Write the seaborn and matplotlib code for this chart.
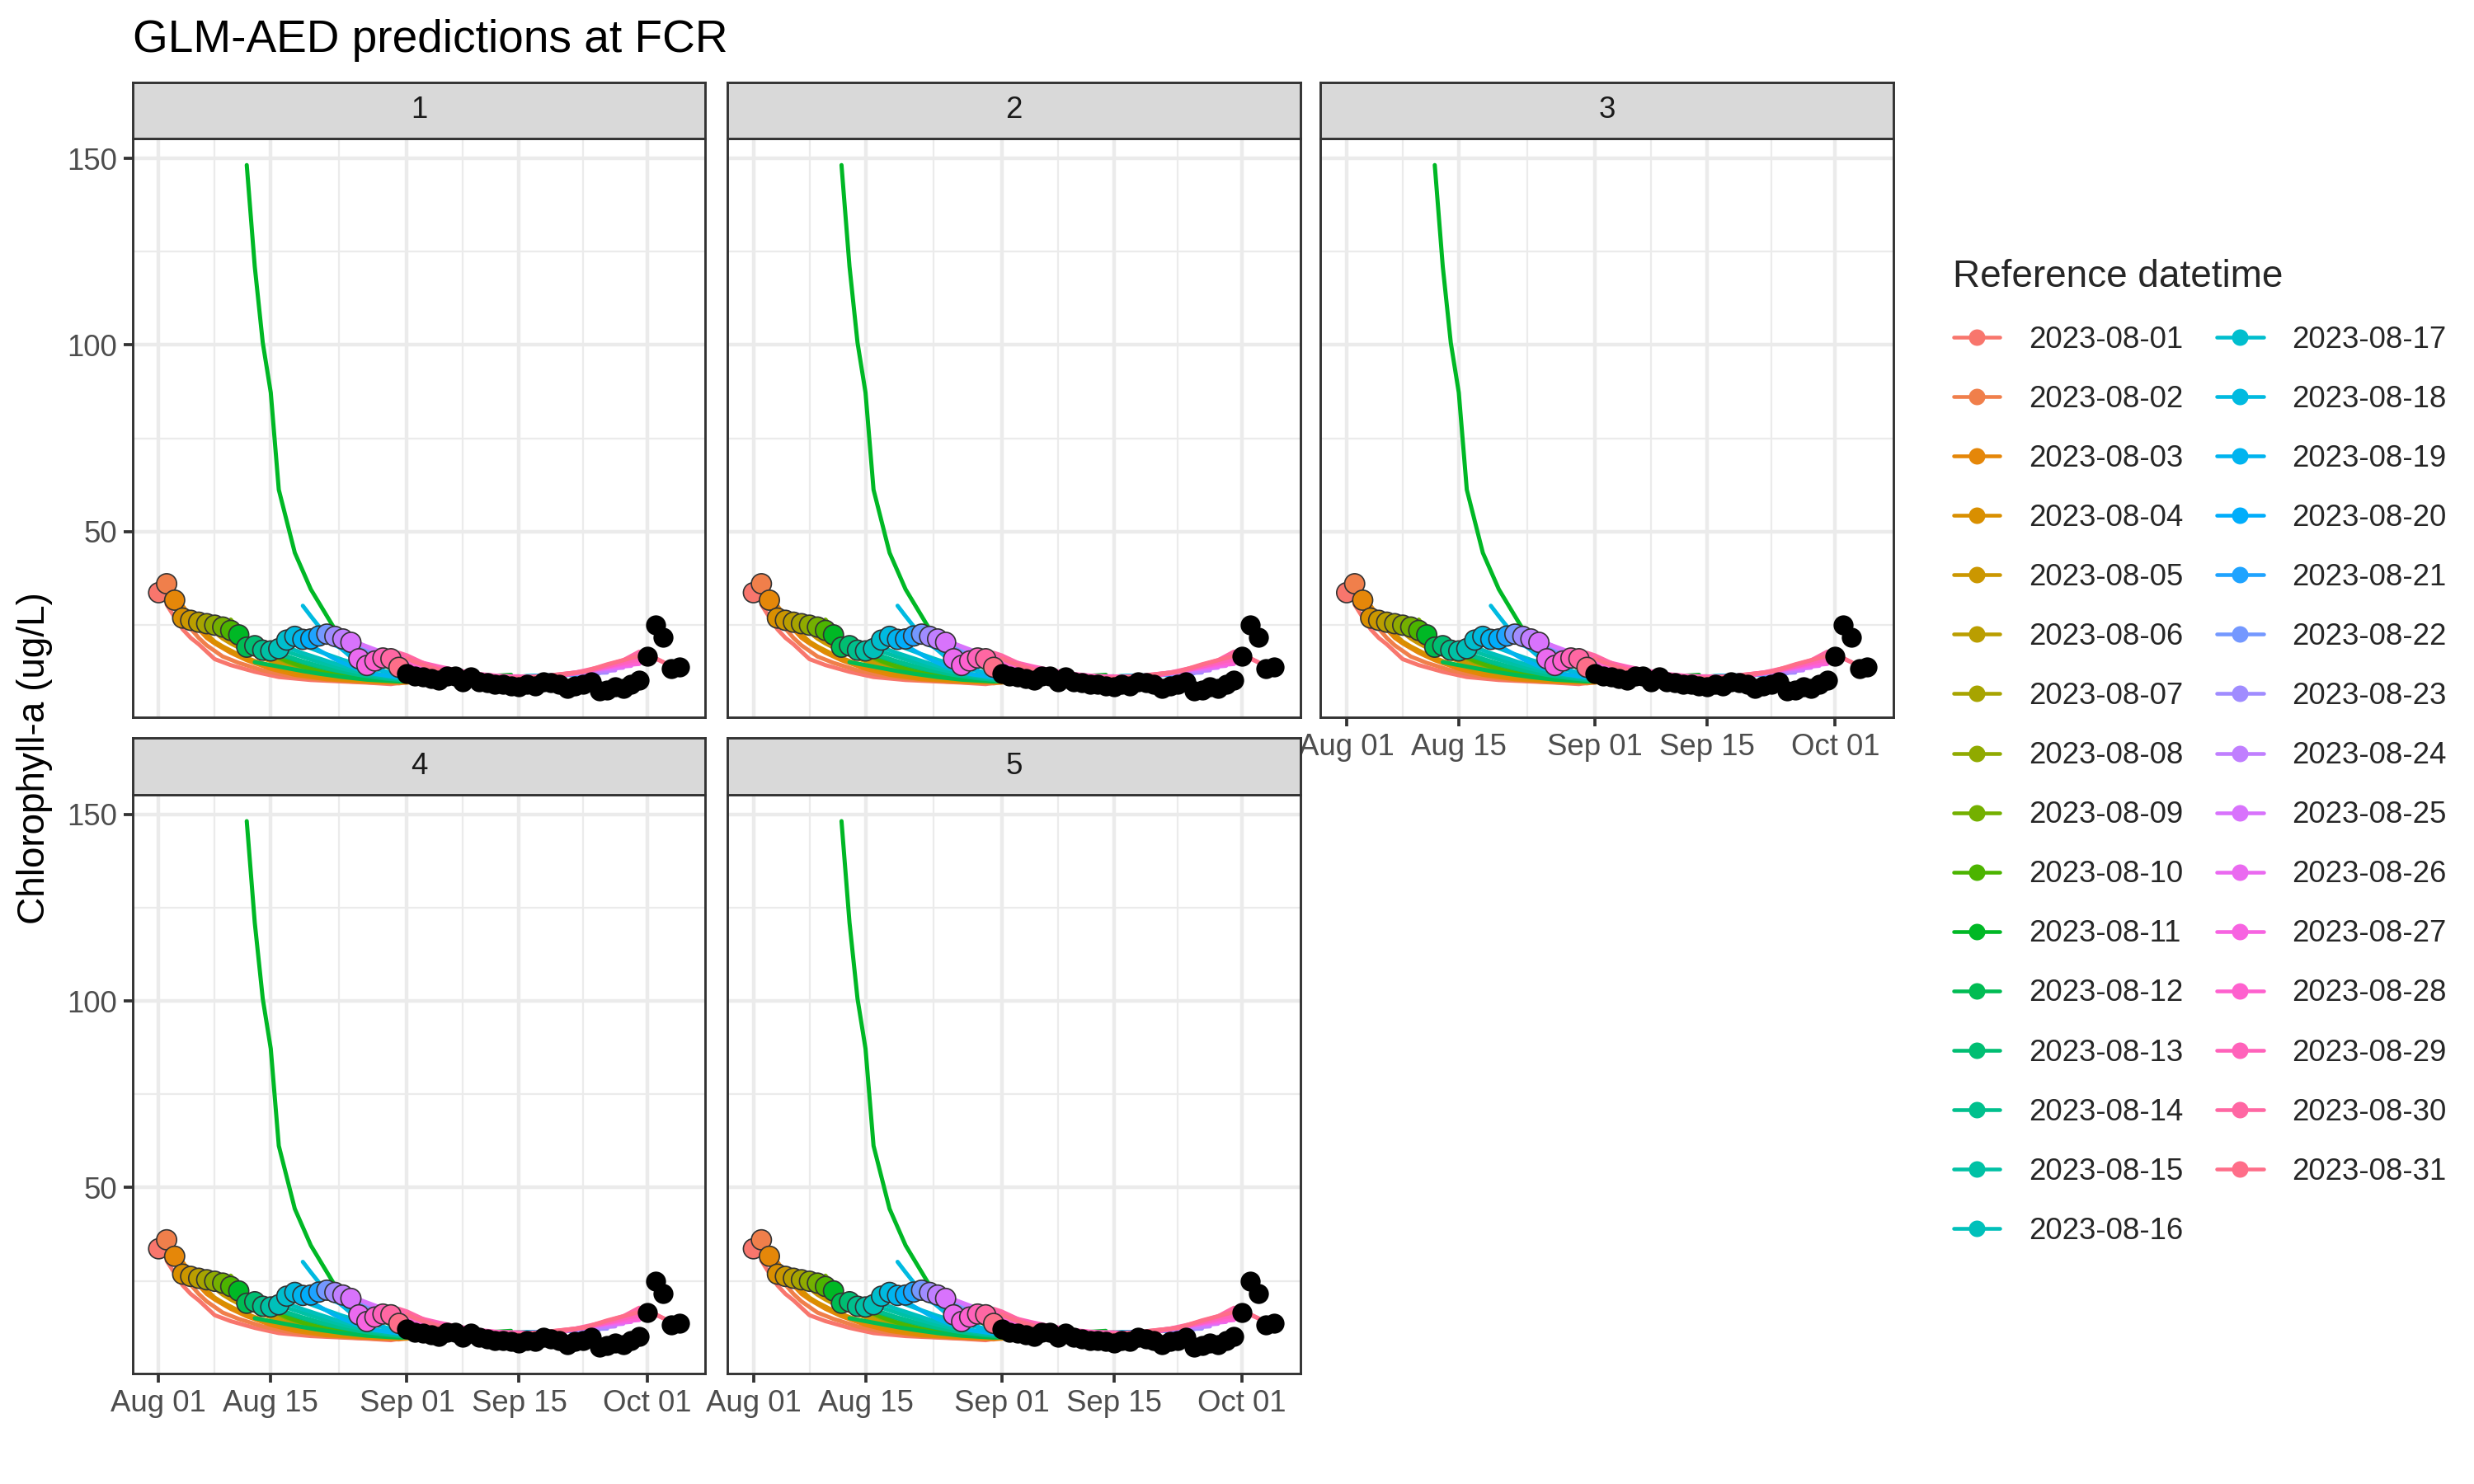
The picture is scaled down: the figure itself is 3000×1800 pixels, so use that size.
import numpy as np
import pandas as pd
import matplotlib
matplotlib.use("Agg")
import matplotlib.pyplot as plt
import matplotlib.dates as mdates
from matplotlib.lines import Line2D
from matplotlib.ticker import FixedLocator
import seaborn as sns

sns.set_theme(style="white")
plt.rcParams["font.family"] = ["Liberation Sans", "DejaVu Sans"]

# ---------------- data ----------------
ref_dates = [f"2023-08-{d:02d}" for d in range(1, 32)]

# forecast horizon (days after the reference date) of the plotted forecast values
horizon_days = [1, 2, 3, 4, 5, 7, 9, 12, 15, 19, 23, 26, 29, 31, 34]

# forecast chlorophyll-a per reference date (rows follow ref_dates)
forecast_chla = [
    [30.4, 27.0, 23.8, 21.5, 19.8, 15.8, 14.2, 12.4, 11.0, 10.2, 9.8, 9.5, 9.1, 9.8, 10.5],
    [30.5, 27.5, 24.0, 21.5, 19.5, 16.5, 14.8, 12.8, 11.4, 10.3, 9.8, 9.5, 9.3, 9.9, 10.6],
    [30.1, 27.0, 23.8, 21.5, 20.0, 17.5, 15.5, 13.2, 11.6, 10.4, 9.9, 9.6, 9.5, 10.0, 10.8],
    [27.0, 25.0, 22.5, 20.5, 19.2, 17.0, 15.3, 13.3, 11.8, 10.6, 10.0, 9.7, 9.7, 10.2, 10.9],
    [26.5, 24.8, 23.0, 21.3, 20.0, 17.8, 16.0, 13.8, 12.2, 10.9, 10.2, 9.9, 9.9, 10.4, 11.0],
    [26.0, 24.6, 23.2, 21.8, 20.5, 18.2, 16.3, 14.1, 12.4, 11.0, 10.3, 10.0, 10.1, 10.5, 11.0],
    [25.6, 24.2, 22.8, 21.5, 20.2, 18.0, 16.1, 13.9, 12.3, 10.9, 10.3, 10.1, 10.2, 10.6, 11.1],
    [25.5, 24.0, 22.3, 20.8, 19.4, 17.0, 15.0, 12.8, 11.5, 10.5, 10.1, 10.0, 10.3, 10.7, 11.2],
    [26.4, 23.8, 21.7, 20.0, 18.6, 16.2, 14.4, 12.5, 11.3, 10.4, 10.1, 10.2, 10.5, 10.9, 11.3],
    [23.0, 21.5, 20.0, 18.6, 17.4, 15.3, 13.8, 12.1, 11.1, 10.2, 10.0, 10.2, 10.5, 10.9, 11.3],
    [148.2, 121.0, 100.6, 87.2, 61.2, 44.3, 34.5, 23.8, 18.0, 13.2, 11.0, 10.6, 10.8, 11.2, 11.6],
    [15.0, 14.6, 14.2, 13.8, 13.4, 12.6, 11.9, 11.0, 10.3, 9.8, 10.0, 10.3, 10.6, 10.9, 11.2],
    [18.5, 17.8, 17.0, 16.3, 15.6, 14.3, 13.2, 11.9, 10.9, 10.0, 10.1, 10.4, 10.7, 11.0, 11.2],
    [18.0, 17.3, 16.6, 15.9, 15.2, 14.0, 12.9, 11.6, 10.7, 9.9, 10.2, 10.5, 10.8, 11.0, 11.2],
    [18.5, 17.8, 17.1, 16.4, 15.7, 14.4, 13.2, 11.8, 10.8, 10.0, 10.3, 10.6, 10.9, 11.1, 11.3],
    [19.0, 18.2, 17.4, 16.7, 16.0, 14.6, 13.4, 11.9, 10.9, 10.1, 10.5, 10.7, 11.0, 11.2, 11.4],
    [20.5, 19.6, 18.7, 17.9, 17.1, 15.6, 14.3, 12.6, 11.3, 10.3, 10.6, 10.8, 11.1, 11.3, 11.5],
    [30.1, 27.3, 24.6, 22.2, 20.0, 16.4, 14.2, 12.0, 11.0, 10.5, 10.7, 10.9, 11.2, 11.4, 11.6],
    [19.5, 18.2, 17.0, 15.8, 14.8, 13.0, 11.8, 10.9, 10.6, 10.5, 10.7, 11.0, 11.2, 11.4, 11.6],
    [21.5, 20.5, 19.5, 18.6, 17.7, 16.0, 14.5, 12.6, 11.4, 10.6, 10.7, 11.0, 11.3, 11.5, 11.7],
    [22.0, 21.0, 20.0, 19.0, 18.0, 16.2, 14.6, 12.7, 11.4, 10.6, 10.6, 11.0, 11.4, 11.6, 11.8],
    [22.3, 21.3, 20.3, 19.3, 18.3, 16.4, 14.8, 12.8, 11.5, 10.7, 10.6, 11.0, 11.5, 11.8, 12.0],
    [22.0, 21.0, 20.0, 19.0, 18.0, 16.2, 14.6, 12.7, 11.5, 10.8, 10.7, 11.1, 11.7, 12.0, 12.2],
    [21.0, 20.0, 19.0, 18.0, 17.2, 15.6, 14.2, 12.5, 11.5, 10.9, 10.8, 11.3, 12.0, 12.4, 12.8],
    [20.0, 19.2, 18.4, 17.6, 16.9, 15.4, 14.1, 12.5, 11.5, 11.0, 11.0, 11.6, 12.5, 13.0, 13.5],
    [17.0, 16.5, 16.0, 15.5, 15.0, 14.0, 13.1, 12.0, 11.3, 11.0, 11.1, 11.8, 12.8, 13.5, 14.0],
    [15.5, 15.2, 14.9, 14.6, 14.2, 13.5, 12.8, 11.8, 11.2, 11.0, 11.2, 12.0, 13.2, 14.0, 14.5],
    [16.0, 15.6, 15.2, 14.8, 14.4, 13.6, 12.9, 11.9, 11.3, 11.1, 11.4, 12.4, 13.8, 14.6, 15.0],
    [17.0, 16.6, 16.0, 15.4, 14.8, 13.8, 12.9, 11.8, 11.2, 11.1, 11.6, 12.8, 14.4, 15.4, 15.8],
    [17.5, 16.8, 15.8, 14.8, 13.9, 12.5, 11.7, 11.1, 10.7, 11.2, 12.2, 13.6, 15.5, 17.8, 15.0],
    [16.0, 15.0, 14.2, 13.5, 12.9, 12.0, 11.4, 10.9, 10.6, 11.5, 12.4, 14.4, 16.1, 17.2, 13.9],
]

# observed chlorophyll-a on each reference date (coloured points)
ref_obs_chla = [33.6, 36.0, 31.6, 26.8, 26.2, 25.7, 25.3, 24.9, 24.4, 23.5, 22.3,
                19.0, 19.4, 18.2, 18.0, 18.6, 20.9, 21.9, 21.1, 21.2, 22.0, 22.5,
                21.9, 21.2, 20.3, 15.9, 14.1, 15.3, 16.1, 15.9, 13.6]

# later observations (black points), 2023-09-01 .. 2023-10-05
later_obs_start, later_obs_end = "2023-09-01", "2023-10-05"
later_obs_chla = [12.0, 11.3, 11.0, 10.6, 10.2, 11.3, 11.3, 9.8, 11.0, 9.8, 9.4, 9.1,
                  9.1, 8.7, 8.3, 9.1, 8.7, 9.8, 9.4, 9.1, 7.9, 8.7, 9.1, 9.8, 7.2,
                  7.6, 8.3, 7.9, 9.1, 10.2, 16.6, 24.9, 21.7, 13.3, 13.7]

panel_labels = ["1", "2", "3", "4", "5"]
x_breaks = ["2023-08-01", "2023-08-15", "2023-09-01", "2023-09-15", "2023-10-01"]
y_breaks = [50, 100, 150]
y_minor = [25, 75, 125]

# ---------------- tables ----------------
fc_rows = []
for ref, vals in zip(ref_dates, forecast_chla):
    base = pd.Timestamp(ref)
    for h, v in zip(horizon_days, vals):
        fc_rows.append((ref, base + pd.Timedelta(days=h), v))
fc = pd.DataFrame(fc_rows, columns=["ref", "date", "chla"])

obs_ref = pd.DataFrame({"ref": ref_dates, "date": pd.to_datetime(ref_dates),
                        "chla": ref_obs_chla})
obs_late = pd.DataFrame({"date": pd.date_range(later_obs_start, later_obs_end),
                         "chla": later_obs_chla})


# ---------------- ggplot hue palette ----------------
def hcl_hex(h, c=100.0, l=65.0):
    WY, Wu, Wv = 100.0, 0.1978398, 0.4683363
    hr = np.deg2rad(h)
    U, V = c * np.cos(hr), c * np.sin(hr)
    Y = WY * (((l + 16) / 116) ** 3 if l > 7.999592 else l / 903.3)
    u = U / (13 * l) + Wu
    v = V / (13 * l) + Wv
    X = 9.0 * Y * u / (4 * v)
    Z = -X / 3 - 5 * Y + 3 * Y / v

    def g(x):
        x = x / WY
        return 1.055 * x ** (1 / 2.4) - 0.055 if x > 0.00304 else 12.92 * x

    r = g(3.240479 * X - 1.537150 * Y - 0.498535 * Z)
    gg = g(-0.969256 * X + 1.875992 * Y + 0.041556 * Z)
    b = g(0.055648 * X - 0.204043 * Y + 1.057311 * Z)
    return tuple(float(np.clip(t, 0, 1)) for t in (r, gg, b))


n = len(ref_dates)
colors = [hcl_hex(15 + i * 360.0 / n) for i in range(n)]
pal = dict(zip(ref_dates, colors))

# ---------------- figure ----------------
fig = plt.figure(figsize=(10, 6), dpi=300)
fig.patch.set_facecolor("white")

col_left = [0.0536, 0.2940, 0.5338]
pw = 0.2315
row_bottom = [0.5165, 0.0744]
ph = 0.390
sh = 0.0382
grid_pos = [(0, 0), (0, 1), (0, 2), (1, 0), (1, 1)]
show_x = [False, False, True, True, True]
show_y = [True, False, False, True, False]

xb = [mdates.date2num(pd.Timestamp(d)) for d in x_breaks]
xminor = [(a + b) / 2 for a, b in zip(xb[:-1], xb[1:])]

LW = 1.2
PT = 34
for k, lab in enumerate(panel_labels):
    r, c = grid_pos[k]
    ax = fig.add_axes([col_left[c], row_bottom[r], pw, ph])
    ax.set_facecolor("white")
    sns.lineplot(data=fc, x="date", y="chla", hue="ref", hue_order=ref_dates,
                 palette=pal, estimator=None, linewidth=LW, legend=False, ax=ax)
    sns.scatterplot(data=obs_ref, x="date", y="chla", hue="ref", hue_order=ref_dates,
                    palette=pal, s=PT, edgecolor="#333333", linewidth=0.4,
                    legend=False, ax=ax, zorder=3)
    sns.scatterplot(data=obs_late, x="date", y="chla", color="black", s=PT,
                    linewidth=0, legend=False, ax=ax, zorder=4)

    ax.xaxis.set_major_locator(FixedLocator(xb))
    ax.xaxis.set_minor_locator(FixedLocator(xminor))
    ax.xaxis.set_major_formatter(mdates.DateFormatter("%b %d"))
    ax.yaxis.set_major_locator(FixedLocator(y_breaks))
    ax.yaxis.set_minor_locator(FixedLocator(y_minor))
    ax.grid(True, which="major", color="#EBEBEB", linewidth=1.07)
    ax.grid(True, which="minor", color="#EBEBEB", linewidth=0.53)
    ax.set_axisbelow(True)
    for sp in ax.spines.values():
        sp.set_color("#333333")
        sp.set_linewidth(0.7)
    ax.tick_params(which="major", length=2.75, width=0.9, color="#333333",
                   labelsize=8.8, labelcolor="#4D4D4D", pad=1.8,
                   bottom=show_x[k], labelbottom=show_x[k],
                   left=show_y[k], labelleft=show_y[k])
    ax.tick_params(which="minor", length=0)
    ax.set_xlabel("")
    ax.set_ylabel("")

    sax = fig.add_axes([col_left[c], row_bottom[r] + ph, pw, sh])
    sax.set_facecolor("#D9D9D9")
    sax.set_xticks([])
    sax.set_yticks([])
    for sp in sax.spines.values():
        sp.set_color("#333333")
        sp.set_linewidth(0.7)
    sax.text(0.5, 0.5, lab, ha="center", va="center", fontsize=8.8,
             color="#1A1A1A", transform=sax.transAxes)

fig.text(0.0536, 0.9648, "GLM-AED predictions at FCR", fontsize=13.2,
         ha="left", va="baseline", color="black")
fig.text(0.0141, 0.489, "Chlorophyll-a (ug/L)", fontsize=11, rotation=90,
         ha="center", va="center", color="black")

handles = [Line2D([0], [0], color=col, lw=1.1, marker="o", markersize=4.8,
                  markeredgewidth=0) for col in colors]
leg = fig.legend(handles, ref_dates, loc="upper left",
                 bbox_to_anchor=(0.7895, 0.8255), ncol=2, frameon=False,
                 title="Reference datetime", title_fontsize=11, fontsize=8.8,
                 handlelength=1.55, handletextpad=0.95, columnspacing=1.1,
                 labelspacing=1.01, borderpad=0, borderaxespad=0,
                 alignment="left")

fig.savefig("out.png", dpi=300, facecolor="white")
